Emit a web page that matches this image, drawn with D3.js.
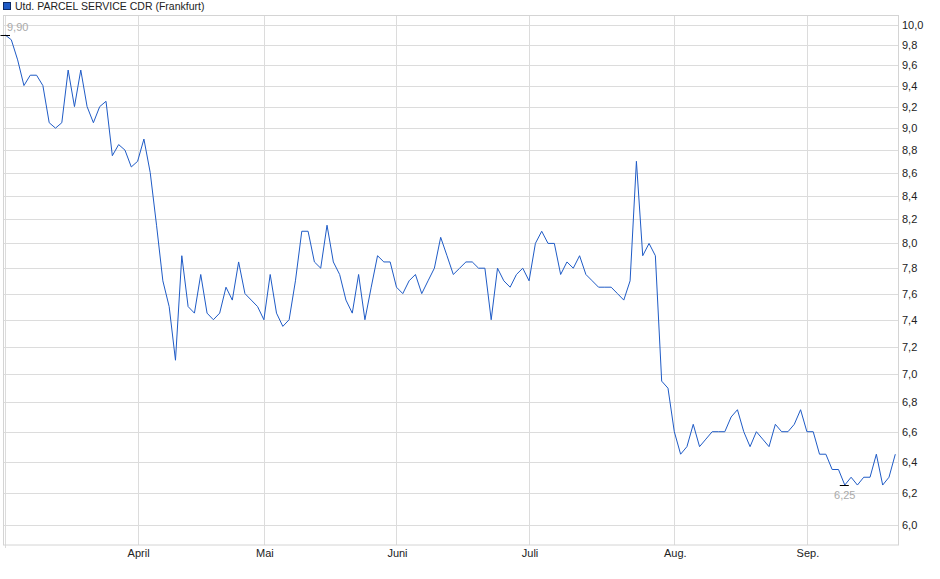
<!DOCTYPE html>
<html>
<head>
<meta charset="utf-8">
<script src="https://cdn.jsdelivr.net/npm/d3@7"></script>
<style>
    body { margin: 0; background: #fff; }
    text { font-family: "Liberation Sans", Arial, sans-serif; }
</style>
</head>
<body>
<div id="chart"></div>
<script>

const title = "Utd. PARCEL SERVICE CDR (Frankfurt)"

// one closing price per trading day
const prices = [
    9.90, 9.85, 9.65, 9.40, 9.50, 9.50, 9.40, 9.05, 9.00, 9.05,
    9.55, 9.20, 9.55, 9.20, 9.05, 9.20, 9.25, 8.75, 8.85, 8.80,
    8.65, 8.70, 8.90, 8.60, 8.15, 7.70, 7.50, 7.10, 7.90, 7.50,
    7.45, 7.75, 7.45, 7.40, 7.45, 7.65, 7.55, 7.85, 7.60, 7.55,
    7.50, 7.40, 7.75, 7.45, 7.35, 7.40, 7.70, 8.10, 8.10, 7.85,
    7.80, 8.15, 7.85, 7.75, 7.55, 7.45, 7.75, 7.40, 7.65, 7.90,
    7.85, 7.85, 7.65, 7.60, 7.70, 7.75, 7.60, 7.70, 7.80, 8.05,
    7.90, 7.75, 7.80, 7.85, 7.85, 7.80, 7.80, 7.40, 7.80, 7.70,
    7.65, 7.75, 7.80, 7.70, 8.00, 8.10, 8.00, 8.00, 7.75, 7.85,
    7.80, 7.90, 7.75, 7.70, 7.65, 7.65, 7.65, 7.60, 7.55, 7.70,
    8.70, 7.90, 8.00, 7.90, 6.95, 6.90, 6.60, 6.45, 6.50, 6.65,
    6.50, 6.55, 6.60, 6.60, 6.60, 6.70, 6.75, 6.60, 6.50, 6.60,
    6.55, 6.50, 6.65, 6.60, 6.60, 6.65, 6.75, 6.60, 6.60, 6.45,
    6.45, 6.35, 6.35, 6.25, 6.30, 6.25, 6.30, 6.30, 6.45, 6.25,
    6.30, 6.45
]

// month labels and the trading-day index where each month starts
const monthLabels = ["April", "Mai", "Juni", "Juli", "Aug.", "Sep."]
const monthStarts = [21, 41, 62, 83, 106, 127]

const yTicks = [6.0, 6.2, 6.4, 6.6, 6.8, 7.0, 7.2, 7.4, 7.6, 7.8, 8.0,
    8.2, 8.4, 8.6, 8.8, 9.0, 9.2, 9.4, 9.6, 9.8, 10.0]

const de = d3.formatLocale({decimal: ",", thousands: ".", grouping: [3], currency: ["", " €"]})
const fmtTick = de.format(".1f")
const fmtVal = de.format(".2f")

const W = 940, H = 579
const plotL = 3, plotT = 15.5, plotR = 898, plotB = 545

const svg = d3.select("#chart")
    .append("svg")
        .attr("width", W)
        .attr("height", H)

const x = d3.scaleLinear()
    .domain([0, prices.length - 1])
    .range([5, 895.3])

const y = d3.scaleLog()
    .domain([6, 10])
    .range([525, 25])

// horizontal grid
svg.append("g")
    .selectAll("line")
    .data(yTicks).enter()
    .append("line")
        .attr("x1", plotL)
        .attr("x2", plotR)
        .attr("y1", d => Math.round(y(d)) + 0.5)
        .attr("y2", d => Math.round(y(d)) + 0.5)
        .attr("stroke", "#dcdcdc")

// vertical grid at month starts
svg.append("g")
    .selectAll("line")
    .data(monthStarts).enter()
    .append("line")
        .attr("x1", d => Math.round(x(d)) + 0.5)
        .attr("x2", d => Math.round(x(d)) + 0.5)
        .attr("y1", plotT)
        .attr("y2", plotB)
        .attr("stroke", "#dcdcdc")

// first day marker line
svg.append("line")
    .attr("x1", Math.round(x(0)) + 0.5)
    .attr("x2", Math.round(x(0)) + 0.5)
    .attr("y1", plotT)
    .attr("y2", plotB + 3)
    .attr("stroke", "#dcdcdc")

// frame
svg.append("rect")
    .attr("x", plotL + 0.5)
    .attr("y", plotT)
    .attr("width", plotR - plotL)
    .attr("height", plotB - plotT)
    .attr("fill", "none")
    .attr("stroke", "#d4d4d4")

// right axis labels
svg.append("g")
    .selectAll("text")
    .data(yTicks).enter()
    .append("text")
        .attr("x", 902)
        .attr("y", d => y(d))
        .attr("dy", "0.36em")
        .attr("font-size", 11)
        .attr("fill", "#222")
        .text(d => fmtTick(d))

// month labels
svg.append("g")
    .selectAll("text")
    .data(monthStarts).enter()
    .append("text")
        .attr("x", d => x(d) + 1)
        .attr("y", 557)
        .attr("text-anchor", "middle")
        .attr("font-size", 11)
        .attr("fill", "#222")
        .text((d, i) => monthLabels[i])

// price line
svg.append("path")
    .datum(prices)
    .attr("fill", "none")
    .attr("stroke", "#1f5bc6")
    .attr("stroke-width", 1)
    .attr("d", d3.line()
        .x((d, i) => x(i))
        .y(d => y(d))
    )

// high / low markers
const hiIdx = d3.maxIndex(prices)
const loIdx = d3.minIndex(prices)

svg.append("line")
    .attr("x1", x(hiIdx) - 4.5)
    .attr("x2", x(hiIdx) + 5)
    .attr("y1", Math.round(y(prices[hiIdx])) + 0.5)
    .attr("y2", Math.round(y(prices[hiIdx])) + 0.5)
    .attr("stroke", "#000")
svg.append("text")
    .attr("x", x(hiIdx) + 2)
    .attr("y", y(prices[hiIdx]) - 3.5)
    .attr("font-size", 11)
    .attr("fill", "#aaa")
    .text(fmtVal(prices[hiIdx]))

svg.append("line")
    .attr("x1", x(loIdx) - 5)
    .attr("x2", x(loIdx) + 4)
    .attr("y1", Math.round(y(prices[loIdx])) + 0.5)
    .attr("y2", Math.round(y(prices[loIdx])) + 0.5)
    .attr("stroke", "#000")
svg.append("text")
    .attr("x", x(loIdx))
    .attr("y", y(prices[loIdx]) + 14)
    .attr("text-anchor", "middle")
    .attr("font-size", 11)
    .attr("fill", "#aaa")
    .text(fmtVal(prices[loIdx]))

// legend
svg.append("rect")
    .attr("x", 3.5)
    .attr("y", 2.5)
    .attr("width", 7)
    .attr("height", 7)
    .attr("fill", "#1f5bc6")
    .attr("stroke", "#0d2a66")
svg.append("text")
    .attr("x", 15)
    .attr("y", 10)
    .attr("font-size", 10.5)
    .attr("fill", "#222")
    .text(title)

</script>
</body>
</html>
